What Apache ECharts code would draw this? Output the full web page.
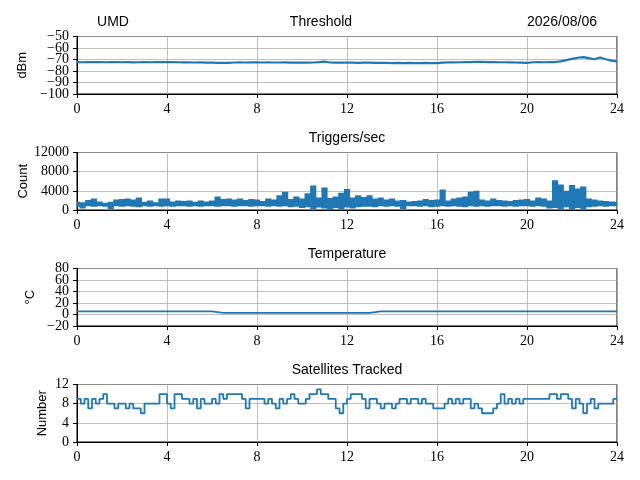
<!DOCTYPE html>
<html>
<head>
<meta charset="utf-8">
<script src="https://cdn.jsdelivr.net/npm/echarts@6/dist/echarts.min.js"></script>
<style>
  html, body { margin: 0; padding: 0; background: #fff; }
  #chart { width: 640px; height: 480px; }
</style>
</head>
<body>
<div id="chart"></div>
<script>
// sampling steps, in hours
const thresholdStep = 0.25
const triggerStep = 0.25
const tempStep = 0.5
const satStep = 1 / 6

// tick labels of the four value axes
const dbmTicks = [-100, -90, -80, -70, -60, -50]
const countTicks = [0, 4000, 8000, 12000]
const tempTicks = [-20, 0, 20, 40, 60, 80]
const numberTicks = [0, 4, 8, 12]

// threshold, dBm, every 15 min
const threshold = [
  -72.3, -72.4, -72.2, -72.3, -72.2, -72.4, -72.3, -72.3,
  -72.4, -72.3, -72.5, -72.4, -72.3, -72.4, -72.2, -72.3,
  -72.2, -72.3, -72.4, -72.5, -72.4, -72.6, -72.5, -72.7,
  -72.8, -72.9, -73.0, -72.9, -72.6, -72.5, -72.6, -72.4,
  -72.5, -72.6, -72.5, -72.6, -72.6, -72.5, -72.7, -72.6,
  -72.8, -72.7, -72.6, -72.3, -71.9, -72.6, -72.8, -72.7,
  -72.7, -72.8, -72.9, -72.8, -72.8, -72.9, -73.0, -73.0,
  -73.1, -73.0, -73.1, -73.0, -73.1, -73.2, -73.0, -73.1,
  -73.2, -72.8, -72.5, -72.5, -72.4, -72.3, -72.2, -72.1,
  -72.0, -72.2, -72.3, -72.4, -72.4, -72.5, -72.6, -72.7,
  -72.9, -72.4, -72.3, -72.4, -72.3, -72.2, -71.6, -70.5,
  -69.5, -68.5, -68.0, -68.8, -69.8, -68.2, -69.8, -71.0,
  -71.6
]

// triggers/sec: upper and lower edge of the noisy band, every 15 min
const trigHigh = [
  1700, 1600, 2100, 2400, 1800, 1500, 1700, 2200,
  2300, 2400, 2200, 2600, 1700, 2000, 1600, 2400,
  2400, 1800, 2000, 1900, 2000, 1700, 2000, 1800,
  2000, 2800, 2300, 2400, 2200, 2400, 2100, 2300,
  2200, 1900, 2400, 2200, 3100, 3800, 2300, 2800,
  2400, 3500, 5100, 2600, 4700, 2500, 2800, 3600,
  4400, 2600, 3100, 2700, 3100, 2400, 2600, 2200,
  2400, 2000, 2100, 1800, 1900, 2000, 2300, 2100,
  2200, 4300, 2000, 2400, 2600, 2800, 3800, 4000,
  2200, 2000, 2400, 2100, 2000, 1900, 2100, 2200,
  2300, 2000, 2600, 2400, 2000, 6200, 5300, 4000,
  5200, 4500, 4900, 2400, 2200, 2000, 1900, 1800,
  1700
]
const trigLow = [
  700, 300, 800, 700, 800, 700, 200, 800,
  700, 800, 700, 600, 800, 700, 800, 700,
  800, 700, 800, 800, 700, 800, 700, 800,
  800, 700, 800, 800, 700, 800, 800, 700,
  800, 800, 700, 800, 700, 800, 600, 700,
  400, 600, 200, 500, 300, 100, 400, 200,
  500, 300, 600, 700, 700, 600, 800, 700,
  800, 700, 200, 800, 800, 700, 800, 600,
  700, 800, 700, 800, 700, 600, 800, 700,
  800, 700, 800, 800, 700, 800, 700, 800,
  800, 700, 800, 700, 300, 400, 200, 600,
  100, 400, 200, 600, 700, 800, 700, 800,
  800
]

// temperature, degC, every 30 min
const temperature = [
  5.5, 5.5, 5.5, 5.5, 5.5, 5.5, 5.5, 5.5, 5.5, 5.5, 5.5, 5.5, 5.5,
  3.0, 3.0, 2.9, 3.0, 3.0, 2.9, 3.0, 3.0, 3.0, 2.9, 3.0, 3.0, 3.0, 3.0,
  5.5, 5.5, 5.5, 5.5, 5.5, 5.5, 5.5, 5.5, 5.5, 5.5, 5.5,
  5.5, 5.5, 5.5, 5.5, 5.5, 5.5, 5.5, 5.5, 5.5, 5.5, 5.5
]

// satellites tracked, every 10 min
const satellites = [
  9, 8, 9, 7, 9, 8,
  9, 10, 8, 8, 7, 8,
  8, 7, 8, 7, 7, 6,
  8, 8, 8, 8, 10, 10,
  8, 7, 10, 10, 9, 9,
  8, 9, 7, 9, 8, 8,
  9, 8, 10, 9, 10, 10,
  10, 10, 9, 7, 9, 9,
  9, 9, 8, 9, 8, 7,
  9, 8, 9, 10, 9, 8,
  8, 9, 10, 10, 11, 10,
  10, 9, 9, 7, 6, 8,
  9, 10, 10, 10, 9, 7,
  9, 9, 8, 7, 8, 8,
  7, 8, 9, 9, 8, 9,
  9, 8, 9, 8, 8, 7,
  7, 7, 8, 9, 8, 9,
  8, 9, 9, 7, 8, 7,
  6, 6, 6, 7, 8, 10,
  8, 9, 8, 9, 8, 9,
  9, 9, 9, 9, 9, 9,
  10, 10, 9, 10, 10, 9,
  7, 9, 8, 6, 8, 9,
  7, 8, 8, 8, 8, 9,
  9
]

const titles = ['Threshold', 'Triggers/sec', 'Temperature', 'Satellites Tracked']

const blue = '#1f77b4'
const gridColor = '#b0b0b0'
const serif = 'Liberation Serif'
const sans = 'Liberation Sans'

const toPairs = (vals, step) => vals.map((v, i) => [i * step, v])
const minus = v => (v < 0 ? '\u2212' + Math.abs(v) : String(v))

// [hour, low, high] for each trigger sample
const trigData = trigHigh.map((v, i) => [i * triggerStep, trigLow[i], v])

const panelTops = [36.5, 152.5, 268.5, 384.5]
const panelHeight = 57.5

const yAxes = [
  { name: 'dBm', ticks: dbmTicks, gap: 48 },
  { name: 'Count', ticks: countTicks, gap: 47 },
  { name: '°C', ticks: tempTicks, gap: 40 },
  { name: 'Number', ticks: numberTicks, gap: 28 }
]

const myChart = echarts.init(document.getElementById('chart'))

const line = (i, data, extra) => Object.assign({
  type: 'line', xAxisIndex: i, yAxisIndex: 2 * i, data: data,
  showSymbol: false, symbol: 'none', clip: true,
  lineStyle: { color: blue, width: 1.8 }
}, extra || {})

// one filled block per sample, from low edge to high edge
const renderTrig = (params, api) => {
  const half = triggerStep / 2
  const a = api.coord([api.value(0) - half, api.value(2)])
  const b = api.coord([api.value(0) + half, api.value(1)])
  return {
    type: 'rect',
    shape: { x: a[0] - 0.3, y: a[1], width: b[0] - a[0] + 0.6, height: b[1] - a[1] },
    style: { fill: blue }
  }
}

const labelStyle = { color: '#000', fontFamily: serif, fontSize: 14, margin: 8 }

// labels are packed closer than their height, so each panel gets two
// overlaid y axes carrying alternate labels (ECharts would drop some otherwise)
const yAxisList = []
yAxes.forEach((a, i) => {
  const base = {
    type: 'value', gridIndex: i,
    min: a.ticks[0], max: a.ticks[a.ticks.length - 1], interval: a.ticks[1] - a.ticks[0]
  }
  yAxisList.push(Object.assign({}, base, {
    name: a.name, nameLocation: 'middle', nameGap: a.gap, nameMoveOverlap: false,
    nameTextStyle: { color: '#000', fontFamily: sans, fontSize: 13 },
    axisLine: { show: true, onZero: false, lineStyle: { color: '#000', width: 1 } },
    axisTick: { show: true, length: 4, lineStyle: { color: '#000' } },
    axisLabel: Object.assign({
      customValues: a.ticks.filter((v, k) => k % 2 === 0), formatter: minus,
      showMinLabel: true, showMaxLabel: true
    }, labelStyle),
    splitLine: { show: true, lineStyle: { color: gridColor, width: 0.8 } }
  }))
  yAxisList.push(Object.assign({}, base, {
    position: 'left', offset: 0,
    axisLine: { show: false }, axisTick: { show: false }, splitLine: { show: false },
    axisLabel: Object.assign({
      customValues: a.ticks.filter((v, k) => k % 2 === 1), formatter: minus,
      showMinLabel: true, showMaxLabel: true
    }, labelStyle)
  }))
})

const option = {
  animation: false,
  backgroundColor: '#fff',
  grid: panelTops.map(t => ({
    left: 77, right: 23, top: t, height: panelHeight,
    show: true, borderColor: '#000', borderWidth: 1, containLabel: false
  })),
  xAxis: panelTops.map((t, i) => ({
    type: 'value', gridIndex: i, min: 0, max: 24, interval: 4,
    axisLine: { show: true, onZero: false, lineStyle: { color: '#000', width: 1 } },
    axisTick: { show: true, length: 4, lineStyle: { color: '#000' } },
    axisLabel: Object.assign({ showMinLabel: true, showMaxLabel: true }, labelStyle),
    splitLine: { show: true, lineStyle: { color: gridColor, width: 0.8 } }
  })),
  yAxis: yAxisList,
  series: [
    line(0, toPairs(threshold, thresholdStep), { lineStyle: { color: blue, width: 2.2 } }),
    {
      type: 'custom', xAxisIndex: 1, yAxisIndex: 2, data: trigData, clip: true,
      encode: { x: 0, y: [1, 2] }, renderItem: renderTrig
    },
    line(2, toPairs(temperature, tempStep), { step: 'start' }),
    line(3, toPairs(satellites, satStep), { step: 'end' })
  ],
  graphic: [
    { type: 'text', x: 113, y: 22, style: { text: 'UMD', align: 'center', verticalAlign: 'middle', fontFamily: sans, fontSize: 14, fill: '#000' } },
    { type: 'text', x: 597, y: 22, style: { text: '2026/08/06', align: 'right', verticalAlign: 'middle', fontFamily: sans, fontSize: 14, fill: '#000' } },
    { type: 'text', x: 321, y: 22, style: { text: titles[0], align: 'center', verticalAlign: 'middle', fontFamily: sans, fontSize: 14, fill: '#000' } }
  ].concat(titles.slice(1).map((t, i) => ({
    type: 'text', x: 347, y: panelTops[i + 1] - 14,
    style: { text: t, align: 'center', verticalAlign: 'middle', fontFamily: sans, fontSize: 14, fill: '#000' }
  })))
}

myChart.setOption(option)
</script>
</body>
</html>
